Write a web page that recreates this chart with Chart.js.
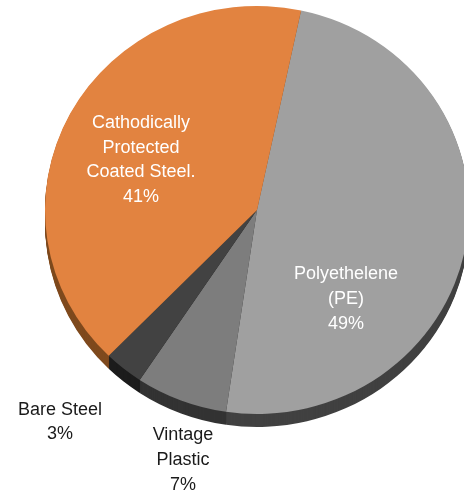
<!DOCTYPE html>
<html>
<head>
<meta charset="utf-8">
<style>
html,body{margin:0;padding:0;background:#fff;overflow:hidden}
#wrap{position:relative;width:464px;height:493px}
</style>
<script src="https://cdn.jsdelivr.net/npm/chart.js@4"></script>
</head>
<body>
<div id="wrap"><canvas id="c" width="464" height="493"></canvas></div>
<script>
const categories = ["Polyethelene (PE)", "Vintage Plastic", "Bare Steel", "Cathodically Protected Coated Steel."];
const shareValues = [49, 7, 3, 41];
const labelLines = [["Polyethelene","(PE)","49%"],["Vintage","Plastic","7%"],["Bare Steel","3%"],["Cathodically","Protected","Coated Steel.","41%"]];
const topColors = ["#A0A0A0", "#7D7D7D", "#424242", "#E28340"];
const sideColors = ["#414141", "#333333", "#1C1C1C", "#7F4A1E"];
const labelColors = ["#FFFFFF", "#1A1A1A", "#1A1A1A", "#FFFFFF"];
const labelOffsets = [[89,89],[-74,250],[-197,212],[-116,-50]];
const stretchX = 212/204, depth = 13, lineHeight = 24.6;

const pie3d = {
  id:'pie3d',
  beforeDatasetsDraw(chart){
    const ctx = chart.ctx, arcs = chart.getDatasetMeta(0).data, cx = arcs[0].x;
    ctx.save();
    ctx.translate(cx,0); ctx.scale(stretchX,1); ctx.translate(-cx,0);
    for(let d=depth;d>=1;d--){
      ctx.save(); ctx.translate(0,d);
      arcs.forEach((a,i)=>{
        const o=a.options;
        a.options=Object.create(o,{backgroundColor:{value:sideColors[i]},borderColor:{value:sideColors[i]}});
        a.draw(ctx);
        a.options=o;
      });
      ctx.restore();
    }
  },
  afterDatasetsDraw(chart){
    const ctx = chart.ctx, arcs = chart.getDatasetMeta(0).data;
    ctx.restore();
    ctx.save();
    ctx.font = '18px "Liberation Sans", Arial, sans-serif';
    ctx.textAlign='center'; ctx.textBaseline='middle';
    arcs.forEach((a,i)=>{
      ctx.fillStyle=labelColors[i];
      const lines=labelLines[i], x=a.x+labelOffsets[i][0], y=a.y+labelOffsets[i][1];
      lines.forEach((t,k)=>ctx.fillText(t,x,y+(k-(lines.length-1)/2)*lineHeight));
    });
    ctx.restore();
  }
};

new Chart(document.getElementById('c'),{
  type:'pie',
  data:{labels:categories,datasets:[{data:shareValues,backgroundColor:topColors,borderWidth:0,hoverOffset:0}]},
  options:{
    responsive:false,animation:false,
    rotation:12,
    layout:{padding:{left:53,right:3,top:6,bottom:79}},
    plugins:{legend:{display:false},tooltip:{enabled:false}},
    events:[]
  },
  plugins:[pie3d]
});
</script>
</body>
</html>
